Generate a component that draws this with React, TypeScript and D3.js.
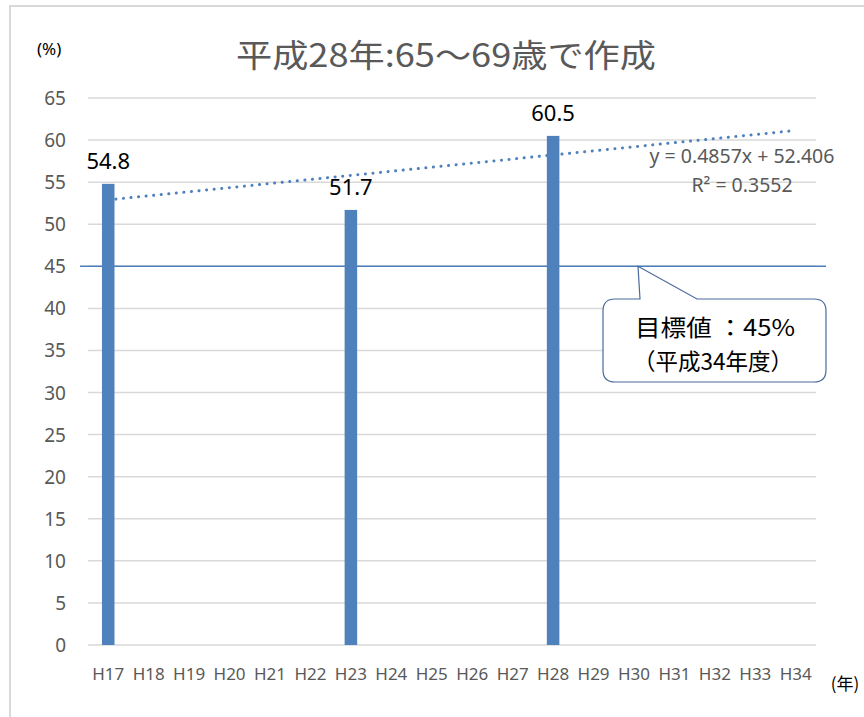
import React from "react";
import * as d3 from "d3";

const categories = ["H17","H18","H19","H20","H21","H22","H23","H24","H25","H26","H27","H28","H29","H30","H31","H32","H33","H34"];
const values: (number | null)[] = [54.8,null,null,null,null,null,51.7,null,null,null,null,60.5,null,null,null,null,null,null];
const yTicks = [0,5,10,15,20,25,30,35,40,45,50,55,60,65];
const trendSlope = 0.4857;
const trendIntercept = 52.406;
const rSquared = 0.3552;
const targetValue = 45;
const title = "平成28年:65～69歳で作成";

const W = 864, H = 717;
const left = 88, right = 816, top = 98, bottom = 645;

export default function App() {
  const x = d3.scaleBand<string>().domain(categories).range([left, right]).paddingInner(0.69).paddingOuter(0.345);
  const y = d3.scaleLinear().domain([0, 65]).range([bottom, top]);
  const cx = (c: string) => (x(c) as number) + x.bandwidth() / 2;
  const trendPts: [number, number][] = categories.map((c, i) => [cx(c), y(trendIntercept + trendSlope * (i + 1))]);
  const line = d3.line();
  const ty = y(targetValue);
  const font = "'Noto Sans', sans-serif";
  const cjk = "'Noto Sans CJK JP', sans-serif";
  const bx1 = 603, bx2 = 826, by1 = 299, by2 = 382, r = 12;
  const callout = `M${bx1 + r},${by1} L640,${by1} L638,${ty} L697,${by1} L${bx2 - r},${by1} Q${bx2},${by1} ${bx2},${by1 + r} L${bx2},${by2 - r} Q${bx2},${by2} ${bx2 - r},${by2} L${bx1 + r},${by2} Q${bx1},${by2} ${bx1},${by2 - r} L${bx1},${by1 + r} Q${bx1},${by1} ${bx1 + r},${by1} Z`;
  return (
    <svg width={W} height={H} style={{ position: "absolute", left: 0, top: 0 }}>
      <rect x={0} y={0} width={W} height={H} fill="#fff" />
      <rect x={10} y={6} width={W} height={H} fill="#fff" stroke="#d9d9d9" strokeWidth={2} />
      <text x={236} y={67} fontFamily={cjk} fontSize={32} fill="#595959" textLength={420} lengthAdjust="spacingAndGlyphs">{title}</text>
      <text x={37} y={55} fontFamily={font} fontSize={17} fill="#000">(%)</text>
      {yTicks.map(t => (
        <g key={t}>
          <line x1={left} x2={right} y1={y(t)} y2={y(t)} stroke="#d9d9d9" strokeWidth={1.5} />
          <text x={66} y={y(t) + 7} textAnchor="end" fontFamily={font} fontSize={19} fill="#595959">{t}</text>
        </g>
      ))}
      {categories.map(c => (
        <text key={c} x={cx(c)} y={680} textAnchor="middle" fontFamily={font} fontSize={17} fill="#595959">{c}</text>
      ))}
      <text x={845} y={690} textAnchor="middle" fontFamily={cjk} fontSize={17} fill="#000">(年)</text>
      <line x1={80} x2={826} y1={ty} y2={ty} stroke="#4a7ebb" strokeWidth={1.5} />
      <path d={line(trendPts) || ""} fill="none" stroke="#4f81bd" strokeWidth={3} strokeDasharray="0.1 7.5" strokeLinecap="round" />
      {categories.map((c, i) => values[i] == null ? null : (
        <g key={c}>
          <rect x={x(c)} y={y(values[i] as number)} width={x.bandwidth()} height={bottom - y(values[i] as number)} fill="#4f81bd" />
          <text x={cx(c)} y={y(values[i] as number) - 15} textAnchor="middle" fontFamily={font} fontSize={22} fill="#000">{(values[i] as number).toFixed(1)}</text>
        </g>
      ))}
      <text x={742} y={163} textAnchor="middle" fontFamily={font} fontSize={19.5} fill="#595959">{`y = ${trendSlope}x + ${trendIntercept}`}</text>
      <text x={742} y={192} textAnchor="middle" fontFamily={font} fontSize={19.5} fill="#595959">{`R² = ${rSquared}`}</text>
      <path d={callout} fill="#fff" stroke="#4a6a9c" strokeWidth={1.2} />
      <text x={635} y={336} fontFamily={cjk} fontSize={23} fill="#000" textLength={160} lengthAdjust="spacingAndGlyphs">目標値 ：45%</text>
      <text x={633} y={370} fontFamily={cjk} fontSize={23} fill="#000" textLength={160} lengthAdjust="spacingAndGlyphs">（平成34年度）</text>
    </svg>
  );
}
